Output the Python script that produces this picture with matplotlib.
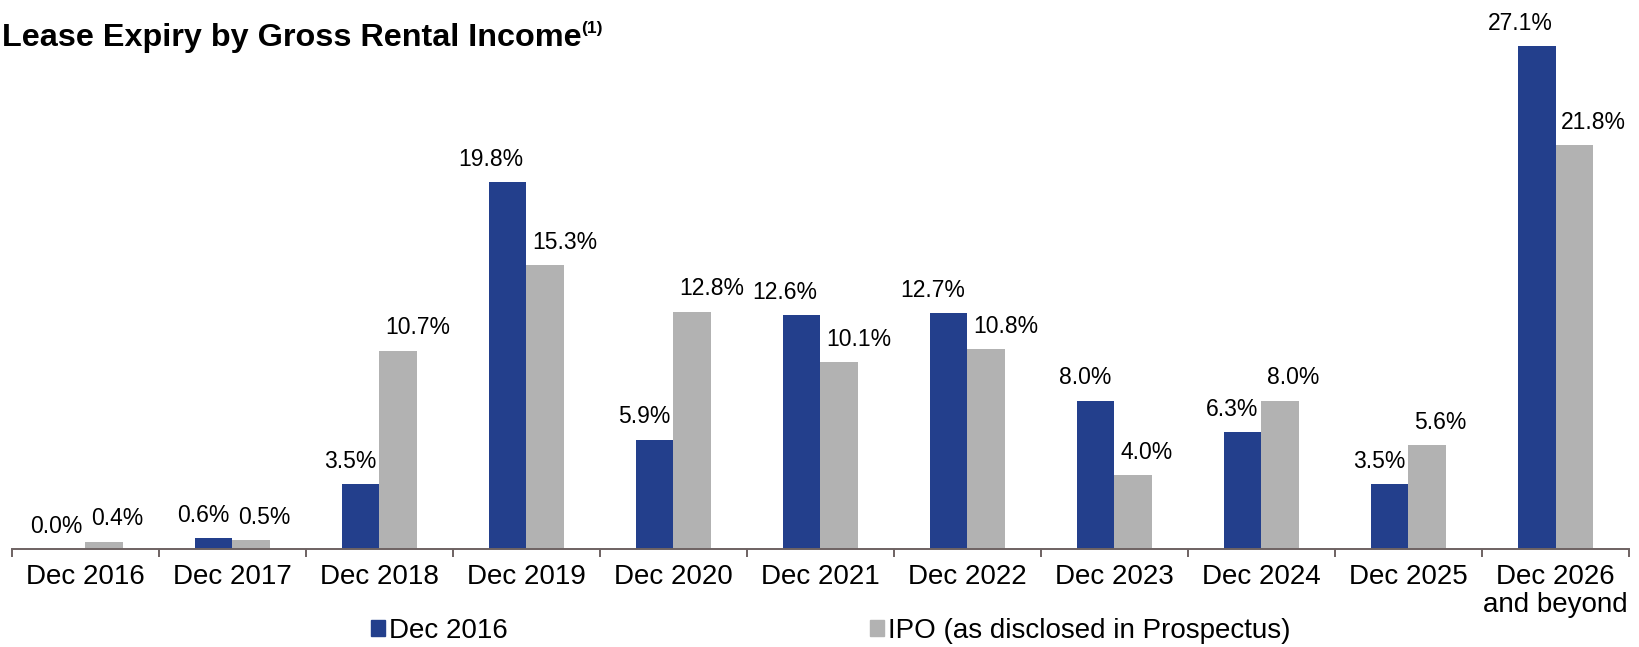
import matplotlib
matplotlib.use("Agg")
import matplotlib.pyplot as plt
from matplotlib.patches import Patch
import numpy as np

plt.rcParams["font.family"] = ["Liberation Sans", "DejaVu Sans"]

categories = ["Dec 2016", "Dec 2017", "Dec 2018", "Dec 2019", "Dec 2020", "Dec 2021",
              "Dec 2022", "Dec 2023", "Dec 2024", "Dec 2025", "Dec 2026\nand beyond"]
dec_2016 = [0.0, 0.6, 3.5, 19.8, 5.9, 12.6, 12.7, 8.0, 6.3, 3.5, 27.1]
ipo = [0.4, 0.5, 10.7, 15.3, 12.8, 10.1, 10.8, 4.0, 8.0, 5.6, 21.8]

series_names = ["Dec 2016", "IPO (as disclosed in Prospectus)"]
blue = "#233f8c"
grey = "#b2b2b2"
axis_col = "#6e6262"

fig = plt.figure(figsize=(16.39, 6.47), dpi=100)
ax = fig.add_axes([0.0073, 0.1515, 0.9866, 0.8485])

x = np.arange(len(categories))
w = 0.255
ax.bar(x - w / 2, dec_2016, w, color=blue)
ax.bar(x + w / 2, ipo, w, color=grey)

# value labels, blue to the left of the group centre, grey to the right
for i in range(len(categories)):
    ax.annotate(f"{dec_2016[i]:.1f}%", (x[i], dec_2016[i]), xytext=(-2, 8),
                textcoords="offset points", ha="right", va="bottom", fontsize=16.5)
    ax.annotate(f"{ipo[i]:.1f}%", (x[i], ipo[i]), xytext=(4, 8),
                textcoords="offset points", ha="left", va="bottom", fontsize=16.5)

ax.set_xlim(-0.5, len(categories) - 0.5)
ax.set_ylim(0, 29.6)
ax.set_yticks([])
for side in ["left", "right", "top"]:
    ax.spines[side].set_visible(False)
ax.spines["bottom"].set_color(axis_col)
ax.spines["bottom"].set_linewidth(1.4)

ax.set_xticks(x)
ax.set_xticklabels(categories, fontsize=20, linespacing=1.1)
ax.tick_params(axis="x", which="major", length=0, pad=11)
ax.set_xticks(np.arange(-0.5, len(categories)), minor=True)
ax.tick_params(axis="x", which="minor", length=6, width=1.4, color=axis_col)

title = fig.text(0.001, 1 - 46 / 647, "Lease Expiry by Gross Rental Income",
                 fontsize=23.3, fontweight="bold", va="baseline")
ax.annotate("(1)", xy=(1, 0.55), xycoords=title, fontsize=12.5, fontweight="bold",
            ha="left", va="bottom", annotation_clip=False)

# two separate legend entries spread along the bottom
for name, col, xpos in [(series_names[0], blue, 0.2264), (series_names[1], grey, 0.5308)]:
    fig.legend(handles=[Patch(color=col)], labels=[name], loc="center left",
               bbox_to_anchor=(xpos, 0.0247), frameon=False, fontsize=20,
               handlelength=0.5, handleheight=0.5, handletextpad=0.15,
               borderpad=0, borderaxespad=0)

fig.savefig("out.png", dpi=100)
